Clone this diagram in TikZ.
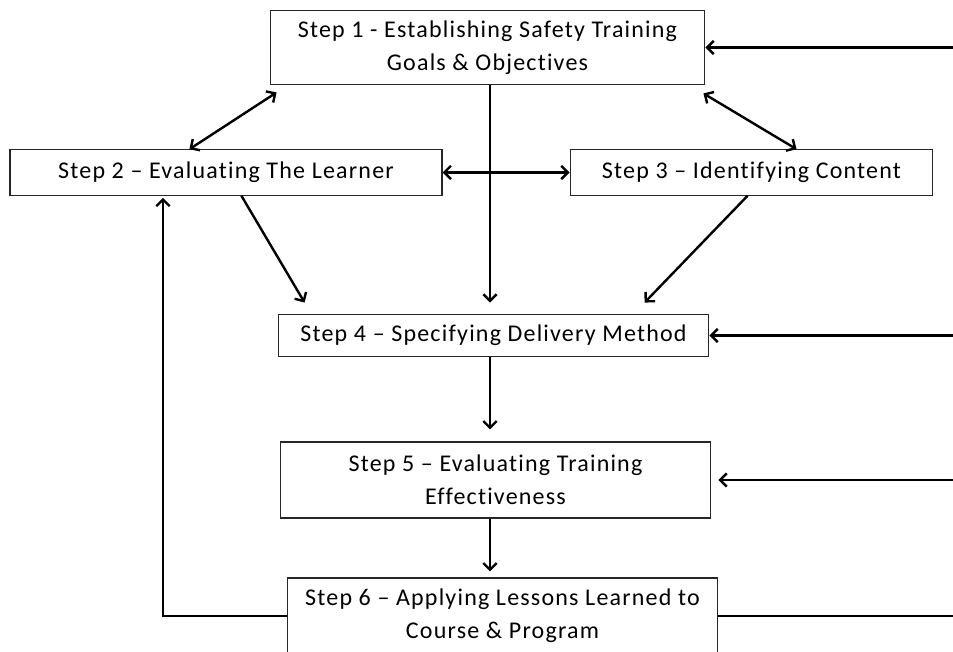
\documentclass[tikz,border=0pt]{standalone}
\usepackage{fontspec}
\setmainfont{Carlito}
\newfontfamily\stepfont[LetterSpace=5,Ligatures=NoCommon]{Carlito}
\usetikzlibrary{arrows.meta,positioning,calc}

\begin{document}
\begin{tikzpicture}[x=0.75pt, y=-0.75pt, barb/.tip={Straight Barb[length=5pt,width=10pt]},
  stepbox/.style={draw=black!85, line width=0.9pt, inner sep=0pt, align=center, minimum width=323pt, font=\stepfont\fontsize{18}{24.5}\selectfont},
  link/.style={line width=1.8pt, -barb}, both/.style={line width=1.8pt, barb-barb}]
  \clip (0,0) rectangle (953,652);
  \useasboundingbox (0,0) rectangle (953,652);

  % The six steps
  \node[stepbox, minimum width=326pt, minimum height=56pt] (s1) at (487.5,47.5) {Step 1 - Establishing Safety Training\\Goals \& Objectives};
  \node[stepbox, minimum width=324pt, minimum height=34pt] (s2) at (226,172.5) {Step 2 – Evaluating The Learner};
  \node[stepbox, minimum width=272pt, minimum height=34pt] (s3) at (751.5,172.5) {Step 3 – Identifying Content};
  \node[stepbox, minimum height=32pt] (s4) at (493.5,335.5) {Step 4 – Specifying Delivery Method};
  \node[stepbox, minimum height=57pt] (s5) at (495.5,480) {Step 5 – Evaluating Training\\Effectiveness};
  \node[stepbox, minimum height=57pt] (s6) at (502.5,616) {Step 6 – Applying Lessons Learned to\\Course \& Program};

  % Ends of the feedback lines
  \coordinate (loop) at (163,616);
  \coordinate (r1) at (953,47.5);
  \coordinate (r4) at (953,335.5);
  \coordinate (r5) at (953,480);
  \coordinate (r6) at (953,616);

  % Arrows between the steps
  \path[both]
    ($(s2.north west)+(180,0)$) edge ($(s1.south west)+(7,7)$)
    ($(s1.south east)+(-2,8)$) edge ($(s3.north west)+(227,0)$)
    (s2.east) edge (s3.west);
  \path[link]
    ($(s1.south)+(2.5,0)$) edge ($(s4.north)+(-3.5,-11)$)
    ($(s2.south west)+(232,0)$) edge ($(s4.north west)+(27,-11)$)
    ($(s3.south west)+(178,0)$) edge ($(s4.north west)+(367,-11)$)
    ($(s4.south)+(-3.5,0)$) edge ($(s5.north)+(-5.5,-12)$)
    ($(s5.south)+(-5.5,0)$) edge ($(s6.north)+(-12.5,-6)$);

  % Feedback lines
  \draw[link] (s6.west) -- (s6.west -| loop) -- ($(s2.south -| loop)+(0,2)$);
  \path[link]
    (r1) edge (s1.east)
    (r4) edge (s4.east)
    (r5) edge ($(s5.east)+(7,0)$);
  \draw[line width=1.8pt] (s6.east) -- (r6);
\end{tikzpicture}
\end{document}
